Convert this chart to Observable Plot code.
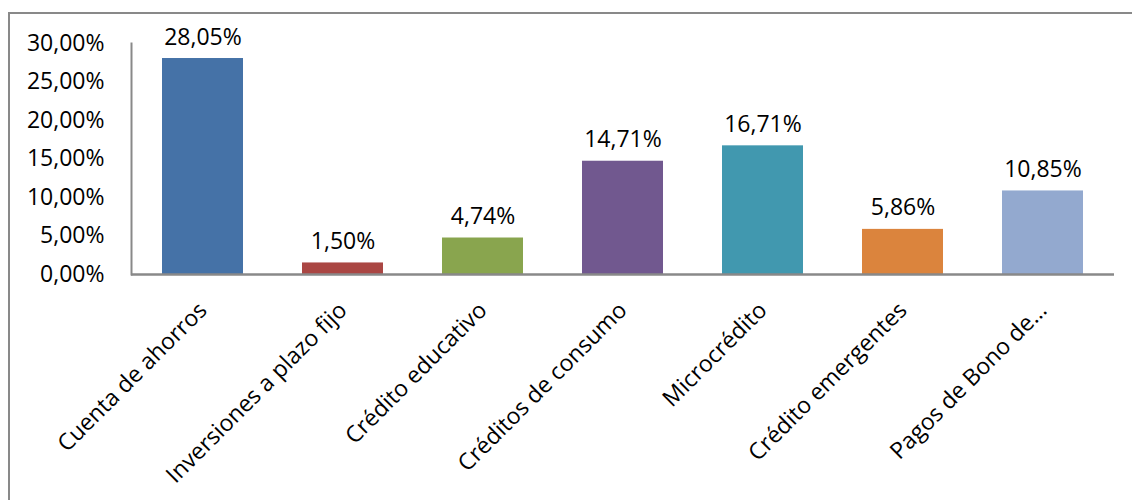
<!DOCTYPE html>
<html>
<head>
<meta charset="utf-8">
<script src="https://cdn.jsdelivr.net/npm/d3@7"></script>
<script src="https://cdn.jsdelivr.net/npm/@observablehq/plot@0.6"></script>
<style>
  body { margin: 0; background: #fff; }
  #wrap { position: relative; width: 1132px; height: 500px; overflow: hidden; }
  #border { position: absolute; left: 8px; top: 12px; width: 1200px; height: 600px; border: 2px solid #898989; box-sizing: border-box; }
  #chart { position: absolute; left: 0; top: 0; }
</style>
</head>
<body>
<div id="wrap"><div id="border"></div><div id="chart"></div></div>
<script>
const categories = ["Cuenta de ahorros", "Inversiones a plazo fijo", "Crédito educativo", "Créditos de consumo", "Microcrédito", "Crédito emergentes", "Pagos de Bono de…"];
const values = [28.05, 1.50, 4.74, 14.71, 16.71, 5.86, 10.85];
const colors = ["#4572A7", "#AA4643", "#89A54E", "#71588F", "#4198AF", "#DB843D", "#93A9CF"];
const yTicks = [0, 5, 10, 15, 20, 25, 30];

const data = categories.map((c, i) => ({category: c, value: values[i], color: colors[i]}));
const fmt = v => v.toFixed(2).replace(".", ",") + "%";
const font = "'Open Sans', sans-serif";
const fs = 23;

const chart = Plot.plot({
  width: 1132,
  height: 500,
  marginLeft: 131,
  marginRight: 18,
  marginTop: 43,
  marginBottom: 226,
  style: {fontFamily: font, fontSize: fs + "px", color: "#000", background: "transparent"},
  x: {domain: categories, paddingInner: 0.42, paddingOuter: 0.21, label: null},
  y: {domain: [0, 30], label: null},
  marks: [
    Plot.barY(data, {x: "category", y: "value", fill: "color"}),
    Plot.text(data, {x: "category", y: "value", text: d => fmt(d.value), lineAnchor: "bottom", dy: -14, fontSize: fs, fill: "#000"}),
    Plot.axisY({ticks: yTicks, tickFormat: fmt, tickSize: 0, tickPadding: 27, fontSize: fs, label: null}),
    Plot.axisX({tickSize: 0, tickPadding: 32, tickRotate: -45, fontSize: fs, label: null}),
    Plot.frame({anchor: "left", stroke: "#898989", strokeWidth: 2}),
    Plot.ruleY([0], {stroke: "#898989", strokeWidth: 2.5})
  ]
});
document.getElementById("chart").appendChild(chart);
</script>
</body>
</html>
